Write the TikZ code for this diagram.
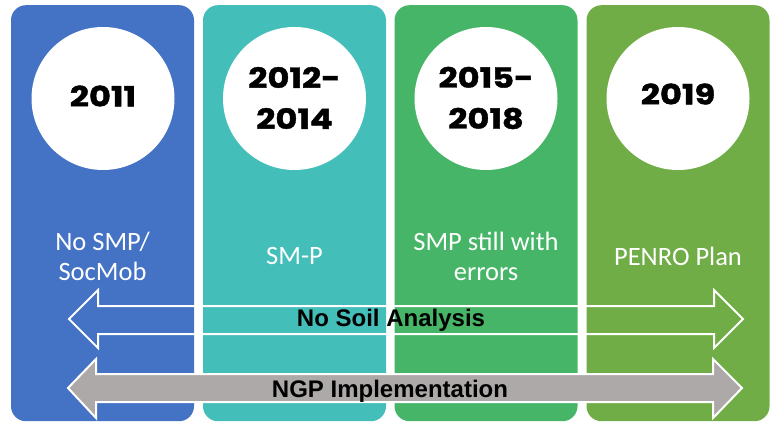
\documentclass[tikz,border=0pt]{standalone}
\usepackage{fontspec}
\setmainfont{Carlito}
\newfontfamily\yearfont{Poppins}[FakeStretch=1.2,FakeBold=1.5]
\newfontfamily\arrowfont{Liberation Sans}
\definecolor{cblue}{RGB}{68,114,196}
\definecolor{cteal}{RGB}{68,190,185}
\definecolor{cgreen}{RGB}{71,181,103}
\definecolor{clime}{RGB}{112,173,71}
\definecolor{cgrey}{RGB}{173,169,168}
\begin{document}
\begin{tikzpicture}[x=1pt,y=-1pt,
  col/.style={fill=#1, rounded corners=15pt, minimum width=183pt, minimum height=416pt, inner sep=0pt, anchor=north},
  yearcirc/.style={circle, fill=white, minimum size=143pt, inner sep=0pt},
  yeartxt/.style={font=\yearfont\bfseries\fontsize{28}{41}\selectfont, align=center, text=black},
  desc/.style={font=\fontsize{26.5}{30}\selectfont, text=white, align=center},
  arrlabel/.style={font=\arrowfont\bfseries\fontsize{24}{28}\selectfont, text=black}]
\useasboundingbox (0,0) rectangle (770,422);
\node[col=cblue]  (c1) at (102.5,5) {};
\node[col=cteal]  (c2) at (294.5,5) {};
\node[col=cgreen] (c3) at (486,5) {};
\node[col=clime]  (c4) at (678,5) {};
\node[yearcirc] (y1) at (103,98.5) {};
\node[yearcirc] (y2) at (294.5,98.5) {};
\node[yearcirc] (y3) at (486,98.5) {};
\node[yearcirc] (y4) at (678,98.5) {};
\node[yeartxt] (t1) at (103,96) {2011};
\node[yeartxt] (t2) at (294.5,98) {2012-\\2014};
\node[yeartxt] (t3) at (486,98) {2015-\\2018};
\node[yeartxt] (t4) at (678,94) {2019};
\node[desc] (d1) at (102.5,256) {No SMP/\\SocMob};
\node[desc] (d2) at (294.5,256) {SM-P};
\node[desc] (d3) at (486,256) {SMP still with\\errors};
\node[desc] (d4) at (678,256) {PENRO Plan};
\draw[white, line width=2pt, line join=miter]
  (69,319) -- (98,290) -- (98,306) -- (714,306) -- (714,290) -- (743,319)
  -- (714,348) -- (714,334) -- (98,334) -- (98,348) -- cycle;
\draw[white, fill=cgrey, line width=2pt, line join=miter]
  (68,388) -- (96,359) -- (96,374) -- (713,374) -- (713,359) -- (742,388)
  -- (713,418) -- (713,402) -- (96,402) -- (96,418) -- cycle;
\node[arrlabel] (a1) at (391,320.5) {No Soil Analysis};
\node[arrlabel] (a2) at (390,391.5) {NGP Implementation};
\end{tikzpicture}
\end{document}
